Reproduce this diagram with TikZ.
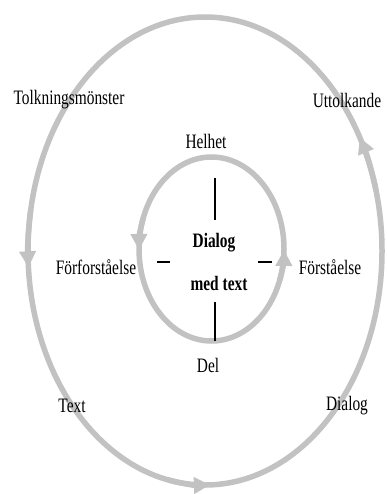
\documentclass[tikz,border=0pt]{standalone}
\usepackage{fontspec}
\setmainfont{Liberation Serif}[FakeStretch=0.75]
\usetikzlibrary{arrows.meta,calc}
\definecolor{ringgrey}{RGB}{194,194,194}
\tikzset{
  ring/.style={draw=ringgrey, line width=5.5pt},
  ringarrow/.style={ring, -{Triangle[length=16pt,width=16pt]}},
  lbl/.style={inner sep=0pt, font=\fontsize{20.5}{23}\selectfont},
  blbl/.style={lbl, font=\fontsize{20.5}{23}\selectfont\bfseries},
  tick/.style={draw=black, line width=1.2pt}
}
\begin{document}
\begin{tikzpicture}[x=1pt,y=1pt]
\useasboundingbox (0,0) rectangle (386,-494);
\coordinate (oc) at (205,-251);
\coordinate (ic) at (211.5,-249);
% outer ring
\draw[ring] (oc) ellipse [x radius=177, y radius=234];
\draw[ringarrow] ($(oc)+(170:177 and 234)$) arc[start angle=170, end angle=184, x radius=177, y radius=234];
\draw[ringarrow] ($(oc)+(258:177 and 234)$) arc[start angle=258, end angle=271.6, x radius=177, y radius=234];
\draw[ringarrow] ($(oc)+(15:177 and 234)$) arc[start angle=15, end angle=29, x radius=177, y radius=234];
% inner ring
\draw[ring] (ic) ellipse [x radius=72.5, y radius=92];
\draw[ringarrow] ($(ic)+(160:72.5 and 92)$) arc[start angle=160, end angle=180.6, x radius=72.5, y radius=92];
\draw[ringarrow] ($(ic)+(-20:72.5 and 92)$) arc[start angle=-20, end angle=-0.6, x radius=72.5, y radius=92];
% ticks
\coordinate (t1a) at (215,-178); \coordinate (t1b) at (215,-220);
\coordinate (t2a) at (215,-302); \coordinate (t2b) at (215,-341);
\coordinate (t3a) at (157,-262); \coordinate (t3b) at (170,-262);
\coordinate (t4a) at (258,-262); \coordinate (t4b) at (272,-262);
\draw[tick] (t1a) -- (t1b);
\draw[tick] (t2a) -- (t2b);
\draw[tick] (t3a) -- (t3b);
\draw[tick] (t4a) -- (t4b);
% labels
\node[lbl] (tolk) at (69,-100) {Tolkningsmönster};
\node[lbl] (utt) at (347,-100) {Uttolkande};
\node[lbl] (hel) at (206,-141) {Helhet};
\node[blbl] (dia) at (214,-243) {Dialog};
\node[blbl] (med) at (219,-283) {med text};
\node[lbl] (forf) at (96,-267) {Förforståelse};
\node[lbl] (forst) at (330,-267) {Förståelse};
\node[lbl] (del) at (208,-365) {Del};
\node[lbl] (text) at (72,-406) {Text};
\node[lbl] (dial) at (347,-406) {Dialog};
\end{tikzpicture}
\end{document}
